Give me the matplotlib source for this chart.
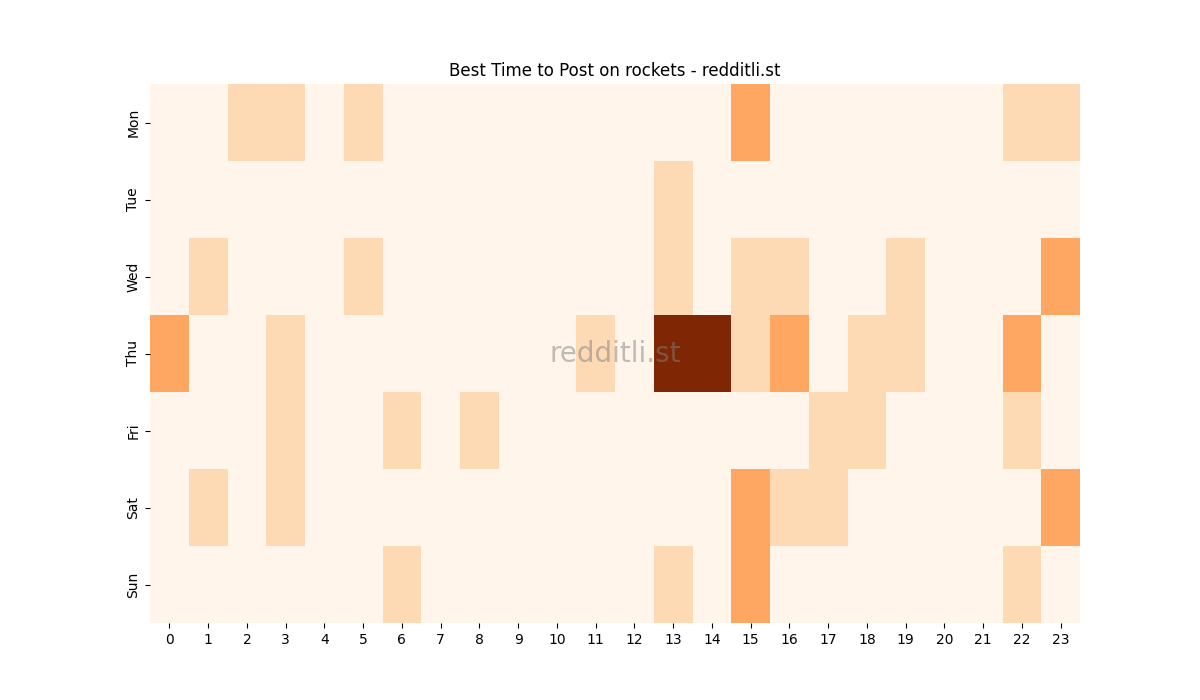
import numpy as np
import seaborn as sns
from matplotlib import pyplot as plt

days = ["Mon", "Tue", "Wed", "Thu", "Fri", "Sat", "Sun"]
hours = [str(h) for h in range(24)]

# posts per day/hour
mon = [0, 0, 1, 1, 0, 1, 0, 0, 0, 0, 0, 0, 0, 0, 0, 2, 0, 0, 0, 0, 0, 0, 1, 1]
tue = [0, 0, 0, 0, 0, 0, 0, 0, 0, 0, 0, 0, 0, 1, 0, 0, 0, 0, 0, 0, 0, 0, 0, 0]
wed = [0, 1, 0, 0, 0, 1, 0, 0, 0, 0, 0, 0, 0, 1, 0, 1, 1, 0, 0, 1, 0, 0, 0, 2]
thu = [2, 0, 0, 1, 0, 0, 0, 0, 0, 0, 0, 1, 0, 5, 5, 1, 2, 0, 1, 1, 0, 0, 2, 0]
fri = [0, 0, 0, 1, 0, 0, 1, 0, 1, 0, 0, 0, 0, 0, 0, 0, 0, 1, 1, 0, 0, 0, 1, 0]
sat = [0, 1, 0, 1, 0, 0, 0, 0, 0, 0, 0, 0, 0, 0, 0, 2, 1, 1, 0, 0, 0, 0, 0, 2]
sun = [0, 0, 0, 0, 0, 0, 1, 0, 0, 0, 0, 0, 0, 1, 0, 2, 0, 0, 0, 0, 0, 0, 1, 0]

grid = np.array([mon, tue, wed, thu, fri, sat, sun])

fig = plt.figure(figsize=(12, 7), dpi=100)
ax = fig.add_subplot(111)
sns.heatmap(grid, cmap="Oranges", cbar=False, ax=ax,
            xticklabels=hours, yticklabels=days)
ax.set_yticklabels(days, rotation=90, va="center")
ax.set_xticklabels(hours, rotation=0)
ax.set_title("Best Time to Post on rockets - redditli.st")
ax.text(0.5, 0.5, "redditli.st", transform=ax.transAxes, fontsize=20,
        color="gray", alpha=0.5, ha="center", va="center")
fig.savefig("out.png")
